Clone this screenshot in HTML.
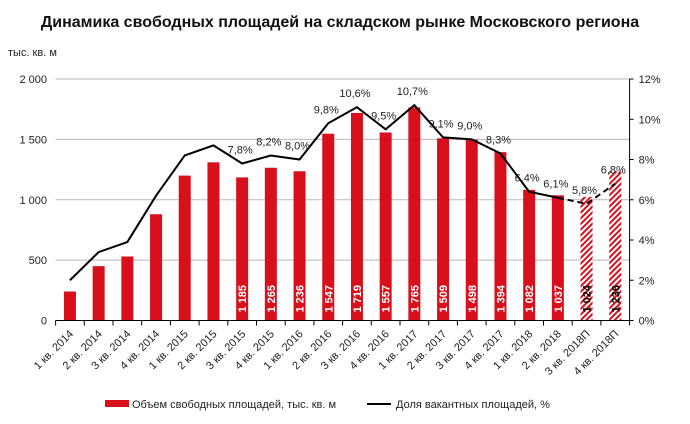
<!DOCTYPE html>
<html><head><meta charset="utf-8">
<style>
body{margin:0;background:#fff;}
svg{display:block;font-family:"Liberation Sans",Arial,sans-serif;}
</style></head>
<body>
<svg id="chart" width="690" height="424" viewBox="0 0 690 424">
<defs>
<pattern id="hatch" patternUnits="userSpaceOnUse" width="4" height="4" patternTransform="rotate(45)">
<rect width="4" height="4" fill="#fff"/>
<rect width="2" height="4" fill="#d8101c"/>
</pattern>
</defs>
<text x="340" y="27" text-anchor="middle" font-size="16" font-weight="bold" fill="#111">Динамика свободных площадей на складском рынке Московского региона</text>
<text x="8" y="56" font-size="11" fill="#222">тыс. кв. м</text>
<g id="grid"></g><g id="bars"></g><g id="line"></g><g id="axes"></g>
<g>
<rect x="105" y="400" width="24" height="7" fill="#d8101c"/>
<text x="132" y="408" font-size="11" fill="#222">Объем свободных площадей, тыс. кв. м</text>
<line x1="367" y1="404" x2="391" y2="404" stroke="#000" stroke-width="2"/>
<text x="396" y="408" font-size="11" fill="#222">Доля вакантных площадей, %</text>
</g>
</svg>
<script>
const categories=["1 кв. 2014","2 кв. 2014","3 кв. 2014","4 кв. 2014","1 кв. 2015","2 кв. 2015","3 кв. 2015","4 кв. 2015","1 кв. 2016","2 кв. 2016","3 кв. 2016","4 кв. 2016","1 кв. 2017","2 кв. 2017","3 кв. 2017","4 кв. 2017","1 кв. 2018","2 кв. 2018","3 кв. 2018П","4 кв. 2018П"];
const volumes=[240,450,530,880,1200,1310,1185,1265,1236,1547,1719,1557,1765,1509,1498,1394,1082,1037,1024,1236];
const vacancy=[2.0,3.4,3.9,6.2,8.2,8.7,7.8,8.2,8.0,9.8,10.6,9.5,10.7,9.1,9.0,8.3,6.4,6.1,5.8,6.8];
const forecast=[false,false,false,false,false,false,false,false,false,false,false,false,false,false,false,false,false,false,true,true];
const showBarLabel=[false,false,false,false,false,false,true,true,true,true,true,true,true,true,true,true,true,true,true,true];
const showPctLabel=[false,false,false,false,false,false,true,true,true,true,true,true,true,true,true,true,true,true,true,true];
const leftTicks=[0,500,1000,1500,2000];
const rightTicks=[0,2,4,6,8,10,12];

const NS="http://www.w3.org/2000/svg";
const L=55.6,R=629.6,T=79,B=320.5;
const step=(R-L)/categories.length;
const xC=i=>L+step*(i+0.5);
const yL=v=>B-(v/2000)*(B-T);
const yR=v=>B-(v/12)*(B-T);
function mk(tag,attrs,parent,txt){const e=document.createElementNS(NS,tag);for(const k in attrs)e.setAttribute(k,attrs[k]);if(txt!==undefined)e.textContent=txt;parent.appendChild(e);return e;}
const fmt=v=>{const s=String(v);return s.length>3?s.slice(0,s.length-3)+"\u00a0"+s.slice(-3):s;};
const grid=document.getElementById('grid'),bars=document.getElementById('bars'),line=document.getElementById('line'),axes=document.getElementById('axes');

leftTicks.forEach(t=>{
  if(t>0){const g=mk('line',{x1:L,x2:R,y1:yL(t),y2:yL(t),stroke:'#b8b8b8','stroke-width':1},grid);
  
  }
  const lb=mk('text',{x:47,y:yL(t)+4,'text-anchor':'end','font-size':11,fill:'#222'},axes,fmt(t));
  
  
});
rightTicks.forEach(t=>{
  mk('line',{x1:R,x2:R+4,y1:yR(t),y2:yR(t),stroke:'#000'},axes);
  const lb=mk('text',{x:R+9,y:yR(t)+4,'font-size':11,fill:'#222'},axes,t+'%');
  
  
});
mk('line',{x1:L,x2:R,y1:B,y2:B,stroke:'#000'},axes);
mk('line',{x1:R,x2:R,y1:T,y2:B,stroke:'#000'},axes);

volumes.forEach((v,i)=>{
  const bw=12;
  const r=mk('rect',{x:xC(i)-bw/2,y:yL(v),width:bw,height:B-yL(v),fill:forecast[i]?'url(#hatch)':'#d8101c'},bars);
  
  
  if(showBarLabel[i]){
    const t=mk('text',{x:0,y:0,transform:`translate(${xC(i)+4},${B-8}) rotate(-90)`,'font-size':11,'font-weight':'bold',fill:forecast[i]?'#000':'#fff'},bars,fmt(v));
    
    
  }
});
for(let i=0;i<=categories.length;i++){mk('line',{x1:L+step*i,x2:L+step*i,y1:B,y2:B+5,stroke:'#000'},axes);}
categories.forEach((c,i)=>{
  const t=mk('text',{x:0,y:0,transform:`translate(${xC(i)+4},${B+14}) rotate(-45)`,'text-anchor':'end','font-size':11,fill:'#222'},axes,c);
  
  
});
let solid='',dash='';
vacancy.forEach((v,i)=>{
  if(i<=17) solid+=(i?'L':'M')+xC(i)+','+yR(v);
  if(i>=17) dash+=(i>17?'L':'M')+xC(i)+','+yR(v);
});
const p1=mk('path',{d:solid,fill:'none',stroke:'#000','stroke-width':2},line);


const p2=mk('path',{d:dash,fill:'none',stroke:'#000','stroke-width':2,'stroke-dasharray':'6,4'},line);


vacancy.forEach((v,i)=>{
  if(!showPctLabel[i])return;
  const t=mk('text',{x:xC(i)-2,y:yR(v)-10,'text-anchor':'middle','font-size':11,fill:'#222'},line,v.toFixed(1).replace('.',',')+'%');
  
  
});
</script>
</body></html>
